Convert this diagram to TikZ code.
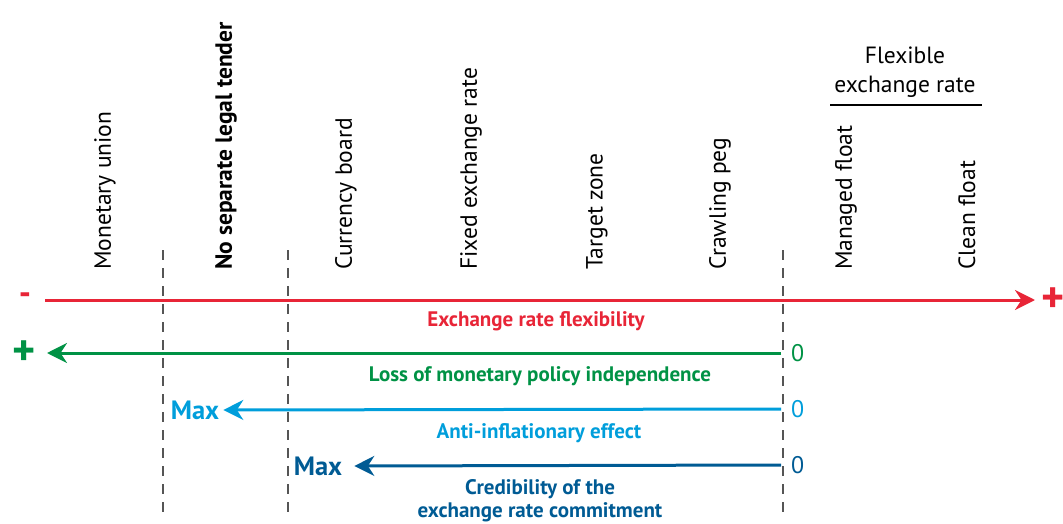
\documentclass[tikz,border=0pt]{standalone}
\usepackage{fontspec}
\setmainfont{PT Sans}
\usepackage{tikz}
\usetikzlibrary{arrows.meta, positioning}
\definecolor{flexred}{RGB}{232,37,55}
\definecolor{lossgreen}{RGB}{0,146,69}
\definecolor{antiblue}{RGB}{0,158,219}
\definecolor{credblue}{RGB}{0,91,148}
\definecolor{sepgrey}{RGB}{85,85,85}
\tikzset{
    regime/.style={
        rotate=90,
        anchor=west,
        inner sep=0pt,
        font=\fontsize{23.5}{27}\selectfont
    },
    separator/.style={
        draw=sepgrey,
        line width=1.6pt,
        dash pattern=on 10pt off 8pt
    },
    axisarrow/.style={
        line width=3pt,
        -{Stealth[length=20pt, width=20pt]}
    },
    caption/.style={
        font=\fontsize{21}{23}\selectfont\bfseries,
        align=center
    },
    endmark/.style={
        font=\fontsize{24}{26}\selectfont,
        inner sep=0pt
    },
    signmark/.style={
        font=\fontsize{44}{44}\selectfont\bfseries,
        inner sep=0pt
    }
}

\begin{document}
\begin{tikzpicture}[x=1pt, y=-1pt]
\useasboundingbox (0,0) rectangle (1063,524);

% Regimes
\node[regime] (monetary) at (105,270) {Monetary union};
\node[regime, font=\fontsize{23.5}{27}\selectfont\bfseries] (nolegal) at (226,270) {No separate legal tender};
\node[regime] (board) at (346,270) {Currency board};
\node[regime] (fixed) at (471,270) {Fixed exchange rate};
\node[regime] (target) at (597,270) {Target zone};
\node[regime] (crawling) at (720,270) {Crawling peg};
\node[regime] (managed) at (846,270) {Managed float};
\node[regime] (clean) at (967,270) {Clean float};

% Flexible group
\node[font=\fontsize{23.5}{29}\selectfont, align=center] (flexible) at (905,72) {Flexible\\exchange rate};
\coordinate (grpleft) at (830,105);
\coordinate (grpright) at (982,105);
\draw[line width=1.6pt] (grpleft) -- (grpright);

% Separators
\foreach \x/\n in {163/a, 288/b, 783/c} {
  \coordinate (top\n) at (\x,250);
  \coordinate (bot\n) at (\x,515);
  \draw[separator] (top\n) -- (bot\n);
}

% Exchange rate flexibility
\node[signmark, text=flexred, font=\fontsize{34}{34}\selectfont\bfseries] (minus) at (25,299) {-};
\node[signmark, text=flexred] (plus) at (1053,300) {+};
\coordinate (flexstart) at (45,300);
\coordinate (flexend) at (1035,300);
\draw[axisarrow, flexred] (flexstart) -- (flexend);
\node[caption, text=flexred] (flexlabel) at (536,321) {Exchange rate flexibility};

% Loss of monetary policy independence
\node[signmark, text=lossgreen] (lossplus) at (24,353) {+};
\node[endmark, text=lossgreen, anchor=west] (losszero) at (791,353) {0};
\coordinate (lossstart) at (781,353);
\coordinate (lossend) at (47,353);
\draw[axisarrow, lossgreen] (lossstart) -- (lossend);
\node[caption, text=lossgreen] (losslabel) at (540,376) {Loss of monetary policy independence};

% Anti-inflationary effect
\node[endmark, text=antiblue, font=\fontsize{26.5}{28}\selectfont\bfseries] (antimax) at (195,410) {Max};
\node[endmark, text=antiblue, anchor=west] (antizero) at (791,409) {0};
\coordinate (antistart) at (781,409);
\draw[axisarrow, antiblue] (antistart) -- ([xshift=4pt]antimax.east);
\node[caption, text=antiblue] (antilabel) at (539,433) {Anti-inflationary effect};

% Credibility
\node[endmark, text=credblue, font=\fontsize{26.5}{28}\selectfont\bfseries] (credmax) at (318,466) {Max};
\node[endmark, text=credblue, anchor=west] (credzero) at (791,465) {0};
\coordinate (credstart) at (781,465);
\draw[axisarrow, credblue] (credstart) -- ([xshift=12pt]credmax.east);
\node[caption, text=credblue] (credlabel) at (540,501) {Credibility of the\\exchange rate commitment};

\end{tikzpicture}
\end{document}
